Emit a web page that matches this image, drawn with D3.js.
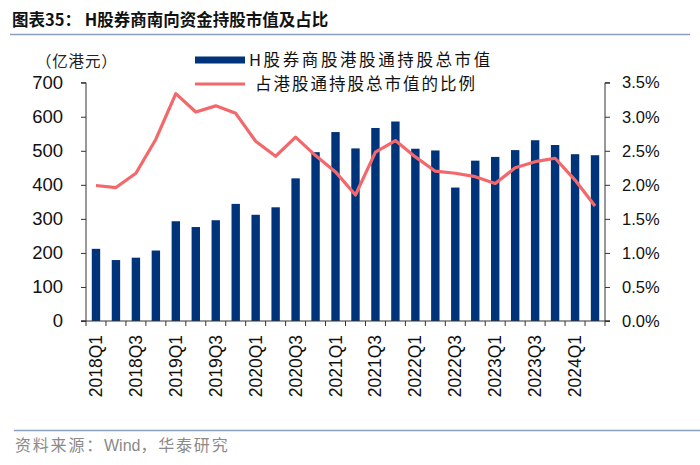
<!DOCTYPE html>
<html><head><meta charset="utf-8">
<script src="https://cdn.jsdelivr.net/npm/d3@7"></script>
<style>body{margin:0;background:#fff;} svg{display:block;}</style>
</head><body>
<svg id="c" width="700" height="465"></svg>
<script>
const categories = ["2018Q1","2018Q2","2018Q3","2018Q4","2019Q1","2019Q2","2019Q3","2019Q4","2020Q1","2020Q2","2020Q3","2020Q4","2021Q1","2021Q2","2021Q3","2021Q4","2022Q1","2022Q2","2022Q3","2022Q4","2023Q1","2023Q2","2023Q3","2023Q4","2024Q1","2024Q2"];
const marketValue = [212,179,186,207,293,276,296,344,312,334,419,496,555,507,567,586,506,501,392,471,482,502,531,517,490,487];
const ratioPct = [1.99,1.96,2.17,2.67,3.34,3.07,3.16,3.05,2.64,2.42,2.70,2.43,2.19,1.85,2.48,2.65,2.41,2.20,2.17,2.12,2.02,2.25,2.34,2.39,2.07,1.69];
const leftTicks = [0,100,200,300,400,500,600,700];
const rightTicks = [0,0.5,1.0,1.5,2.0,2.5,3.0,3.5];
const seriesNames = ["H股券商股港股通持股总市值","占港股通持股总市值的比例"];

const svg = d3.select("#c");
const x0 = 86, x1 = 605, yTop = 82.7, yBot = 321;
const font = "Liberation Sans, Arial, sans-serif";
const cjk = "'Noto Sans CJK SC', sans-serif";

const xb = d3.scaleBand().domain(categories).range([x0, x1]);
const yL = d3.scaleLinear().domain([0,700]).range([yBot, yTop]);
const yR = d3.scaleLinear().domain([0,3.5]).range([yBot, yTop]);

// title
svg.append("text").attr("x",12).attr("y",26).attr("font-family",cjk).attr("font-weight","bold")
  .attr("font-size",16.5).attr("fill","#111").text("图表35： H股券商南向资金持股市值及占比");
svg.append("line").attr("x1",10).attr("x2",690).attr("y1",34.5).attr("y2",34.5).attr("stroke","#8aa0be").attr("stroke-width",1.5);
svg.append("line").attr("x1",14).attr("x2",700).attr("y1",430.5).attr("y2",430.5).attr("stroke","#8aa0be").attr("stroke-width",1.5);
const src = svg.append("text").attr("x",15).attr("y",451).attr("font-family",cjk).attr("font-size",16).attr("fill","#8a8a8a");
src.append("tspan").attr("letter-spacing",1.8).text("资料来源：");
src.append("tspan").attr("font-family",font).text("Wind");
src.append("tspan").attr("letter-spacing",1.8).text("，华泰研究");

// unit
svg.append("text").attr("x",36).attr("y",67).attr("font-family",cjk).attr("font-size",15.5).attr("letter-spacing",0.8).attr("fill","#222").text("（亿港元）");

// bars
svg.append("g").selectAll("rect").data(marketValue).join("rect")
  .attr("x",(d,i)=>xb(categories[i]) + xb.bandwidth()/2 - 4.2)
  .attr("width",8.4)
  .attr("y",d=>yL(d)).attr("height",d=>yBot-yL(d)).attr("fill","#00347a");

// line
const line = d3.line().x((d,i)=>xb(categories[i])+xb.bandwidth()/2).y(d=>yR(d));
svg.append("path").datum(ratioPct).attr("d",line).attr("fill","none").attr("stroke","#f4686b").attr("stroke-width",3.2).attr("stroke-linejoin","round");

// left axis
const gL = svg.append("g").attr("transform",`translate(${x0},0)`)
  .call(d3.axisLeft(yL).tickValues(leftTicks).tickSize(5).tickPadding(18));
gL.selectAll("text").attr("font-family",font).attr("font-size",18.5).attr("fill","#111");
gL.select(".domain").attr("stroke","#333").attr("d",`M-5,${yTop}H0V${yBot}H-5`);
gL.selectAll("line").attr("stroke","#333");

// right axis
const gR = svg.append("g").attr("transform",`translate(${x1},0)`)
  .call(d3.axisRight(yR).tickValues(rightTicks).tickSize(5).tickPadding(12).tickFormat(d=>d.toFixed(1)+"%"));
gR.selectAll("text").attr("font-family",font).attr("font-size",16.5).attr("fill","#111");
gR.select(".domain").attr("stroke","#333").attr("d",`M5,${yTop}H0V${yBot}H5`);
gR.selectAll("line").attr("stroke","#333");

// x axis
const boundaries = categories.map(c=>xb(c)).concat([x1]);
const gX = svg.append("g");
gX.append("line").attr("x1",x0-5).attr("x2",x1+5).attr("y1",yBot).attr("y2",yBot).attr("stroke","#333");
gX.selectAll("line.t").data(boundaries).join("line").attr("class","t")
  .attr("x1",d=>d).attr("x2",d=>d).attr("y1",yBot).attr("y2",yBot+5).attr("stroke","#333");
gX.selectAll("text").data(categories.filter((c,i)=>i%2===0)).join("text")
  .attr("transform",c=>`translate(${xb(c)+xb.bandwidth()/2+6},${yBot+14}) rotate(-90)`)
  .attr("text-anchor","end").attr("font-family",font).attr("font-size",17.5).attr("fill","#111").text(c=>c);

// legend
svg.append("rect").attr("x",195).attr("y",56.5).attr("width",50).attr("height",7).attr("fill","#00347a");
svg.append("text").attr("x",249).attr("y",66).attr("font-family",cjk).attr("font-size",16.5).attr("letter-spacing",2.6).attr("fill","#111").text(seriesNames[0]);
svg.append("line").attr("x1",195).attr("x2",245).attr("y1",84).attr("y2",84).attr("stroke","#f4686b").attr("stroke-width",3.2);
svg.append("text").attr("x",255).attr("y",90).attr("font-family",cjk).attr("font-size",16.5).attr("letter-spacing",2.0).attr("fill","#111").text(seriesNames[1]);
</script>
</body></html>
